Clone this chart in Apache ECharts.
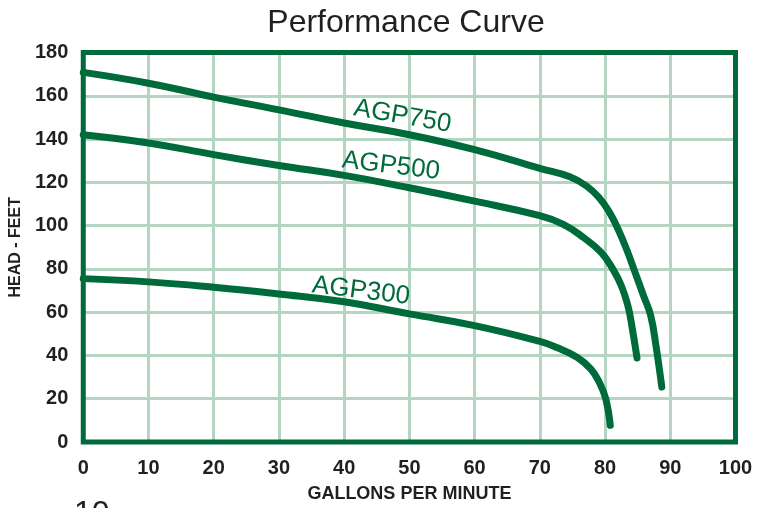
<!DOCTYPE html>
<html>
<head>
<meta charset="utf-8">
<script src="https://cdn.jsdelivr.net/npm/echarts@6/dist/echarts.min.js"></script>
<style>
html,body{margin:0;padding:0;background:#fff;}
#c{width:770px;height:508px;}
</style>
</head>
<body>
<div id="c"></div>
<script>
// Data (GPM, head in feet)
const agp750 = [[0,170.8],[10,165.8],[20,159.4],[30,153.5],[40,147.4],[50,142],[60,135.1],[70,126.5],[74.6,122.6],[77.2,118.2],[79.1,112.9],[80.7,106],[82.0,98.3],[83.3,89.1],[84.6,78.4],[85.9,67.6],[87.0,58.4],[87.8,44.6],[88.7,25.4]];
const agp500 = [[0,142],[10,138.2],[20,132.8],[30,127.8],[40,123.2],[50,117.5],[60,111.3],[70,104.6],[73.6,100.6],[76.7,94.5],[79.4,87.6],[81.2,79.9],[82.5,72.2],[83.5,63.0],[84.1,53.8],[84.9,38.8]];
const agp300 = [[0,75.5],[10,74],[20,71.5],[30,68.4],[40,64.8],[50,59.2],[60,53.8],[70,46.5],[72.5,43.8],[75.7,39.2],[77.8,33.8],[79.1,27.7],[80.1,20],[80.8,7.7]];
const seriesNames = ['AGP750','AGP500','AGP300'];
const titleText = 'Performance Curve';
const xName = 'GALLONS PER MINUTE';
const yName = 'HEAD - FEET';

const green = '#006b3a';
const gridGreen = '#b3d5c2';
const dark = '#231f20';

const chart = echarts.init(document.getElementById('c'), null, {renderer:'canvas'});
function mkSeries(name, data){
  return {
    name, type:'line', data, smooth:0.45, symbol:'none',
    lineStyle:{color:green, width:7, cap:'round', join:'round'},
    z:5
  };
}
chart.setOption({
  animation:false,
  backgroundColor:'#fff',
  title:{
    text:titleText, left:401, textAlign:'center', top:2,
    textStyle:{fontFamily:'Liberation Sans, Arial', fontSize:32, fontWeight:'normal', color:dark}
  },
  grid:{left:80, right:34.5, top:52.5, bottom:64.5, show:true, borderColor:green, borderWidth:5, backgroundColor:'transparent', z:3},
  xAxis:{
    type:'value', min:0, max:100, interval:10,
    name:xName, nameLocation:'middle', nameGap:43,
    nameTextStyle:{fontFamily:'Liberation Sans, Arial', fontWeight:'bold', fontSize:18, color:dark},
    axisLine:{show:false}, axisTick:{show:false},
    axisLabel:{margin:16, fontFamily:'Liberation Sans, Arial', fontWeight:'bold', fontSize:20, color:dark},
    splitLine:{show:true, showMinLine:false, showMaxLine:false, lineStyle:{color:gridGreen, width:3}}
  },
  yAxis:{
    type:'value', min:0, max:180, interval:20,
    name:yName, nameLocation:'middle', nameGap:47, nameRotate:90,
    nameTextStyle:{fontFamily:'Liberation Sans, Arial', fontWeight:'bold', fontSize:16, color:dark},
    axisLine:{show:false}, axisTick:{show:false},
    axisLabel:{margin:15, fontFamily:'Liberation Sans, Arial', fontWeight:'bold', fontSize:20, color:dark},
    splitLine:{show:true, showMinLine:false, showMaxLine:false, lineStyle:{color:gridGreen, width:3}}
  },
  series:[mkSeries(seriesNames[0],agp750), mkSeries(seriesNames[1],agp500), mkSeries(seriesNames[2],agp300)],
  graphic:[
    {type:'text', x:402.5, y:116.5, rotation:-10*Math.PI/180, z:10,
      style:{text:seriesNames[0], fill:green, font:'26px "Liberation Sans", Arial', textAlign:'center', textVerticalAlign:'middle'}},
    {type:'text', x:391, y:166, rotation:-7*Math.PI/180, z:10,
      style:{text:seriesNames[1], fill:green, font:'26px "Liberation Sans", Arial', textAlign:'center', textVerticalAlign:'middle'}},
    {type:'text', x:361, y:291, rotation:-7*Math.PI/180, z:10,
      style:{text:seriesNames[2], fill:green, font:'26px "Liberation Sans", Arial', textAlign:'center', textVerticalAlign:'middle'}},
    {type:'text', x:74, y:498, z:10,
      style:{text:'10', fill:dark, font:'32px "Liberation Sans", Arial', textAlign:'left', textVerticalAlign:'top'}}
  ]
});
</script>
</body>
</html>
